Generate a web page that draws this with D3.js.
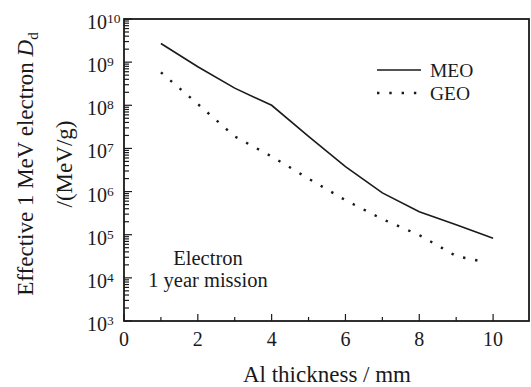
<!DOCTYPE html>
<html>
<head>
<meta charset="utf-8">
<script src="https://cdn.jsdelivr.net/npm/d3@7"></script>
<style>
	body { margin: 0; background: #fff; }
	svg text { font-family: 'Liberation Serif', 'Times New Roman', serif; fill: #1a1a1a; }
</style>
</head>
<body>
<svg id="chart" width="531" height="387"></svg>
<script>
// Al thickness (mm)
const meoThickness = [1, 2, 3, 4, 5, 6, 7, 8, 9, 10];
const meoDose = [2.7e9, 7.8e8, 2.5e8, 1.0e8, 1.9e7, 3.8e6, 9.3e5, 3.4e5, 1.7e5, 8.3e4];
const geoThickness = [1, 2, 3, 4, 5, 6, 7, 8, 9, 9.7];
const geoDose = [5.8e8, 1.07e8, 1.9e7, 6.5e6, 2.0e6, 6.3e5, 2.3e5, 9.8e4, 3.2e4, 2.4e4];
const xTicks = [0, 2, 4, 6, 8, 10];
const xMinorTicks = [1, 3, 5, 7, 9];
const yExponents = [3, 4, 5, 6, 7, 8, 9, 10];

const svg = d3.select('#chart');
const margin = {left: 124, top: 19, right: 1, bottom: 66};
const width = 531, height = 387;
const x0 = margin.left, x1 = width - margin.right;
const y0 = height - margin.bottom, y1 = margin.top;

const x = d3.scaleLinear().domain([0, 11]).range([x0, x1]);
const y = d3.scaleLog().domain([1e3, 1e10]).range([y0, y1]);
const ink = '#1a1a1a';

// minor log ticks, inward
const minorY = [];
yExponents.slice(0, -1).forEach(e => {
	for(let k = 2; k <= 9; k++) minorY.push(k * Math.pow(10, e));
});

const ticks = svg.append('g').attr('stroke', ink).attr('stroke-width', 1.2);
ticks.selectAll('line.ymaj')
	.data(yExponents.map(e => Math.pow(10, e)))
	.join('line')
	.attr('class', 'ymaj')
	.attr('x1', x0).attr('x2', x0 + 8)
	.attr('y1', d => y(d)).attr('y2', d => y(d));
ticks.selectAll('line.ymin')
	.data(minorY)
	.join('line')
	.attr('class', 'ymin')
	.attr('x1', x0).attr('x2', x0 + 5)
	.attr('y1', d => y(d)).attr('y2', d => y(d));
ticks.selectAll('line.xmaj')
	.data(xTicks)
	.join('line')
	.attr('class', 'xmaj')
	.attr('x1', d => x(d)).attr('x2', d => x(d))
	.attr('y1', y0).attr('y2', y0 - 7);
ticks.selectAll('line.xmin')
	.data(xMinorTicks)
	.join('line')
	.attr('class', 'xmin')
	.attr('x1', d => x(d)).attr('x2', d => x(d))
	.attr('y1', y0).attr('y2', y0 - 4);

// frame
svg.append('rect')
	.attr('x', x0).attr('y', y1)
	.attr('width', x1 - x0 - 1).attr('height', y0 - y1)
	.attr('fill', 'none').attr('stroke', ink).attr('stroke-width', 1.8);

// y tick labels 10^n
const yLab = svg.append('g').attr('font-size', 20);
yLab.selectAll('text.base')
	.data(yExponents)
	.join('text')
	.attr('class', 'base')
	.attr('x', 107).attr('y', d => y(Math.pow(10, d)) + 10)
	.attr('text-anchor', 'end')
	.text('10');
yLab.selectAll('text.exp')
	.data(yExponents)
	.join('text')
	.attr('class', 'exp')
	.attr('x', 107).attr('y', d => y(Math.pow(10, d)) + 4)
	.attr('font-size', 13.5)
	.text(d => d);

// x tick labels
svg.append('g').attr('font-size', 20).attr('text-anchor', 'middle')
	.selectAll('text')
	.data(xTicks)
	.join('text')
	.attr('x', d => x(d)).attr('y', 346)
	.text(d => d);

// series
const line = d3.line().x(d => x(d[0])).y(d => y(d[1]));
svg.append('path')
	.datum(d3.zip(meoThickness, meoDose))
	.attr('d', line)
	.attr('fill', 'none').attr('stroke', ink).attr('stroke-width', 1.6);
svg.append('path')
	.datum(d3.zip(geoThickness, geoDose))
	.attr('d', line)
	.attr('fill', 'none').attr('stroke', ink).attr('stroke-width', 2.4)
	.attr('stroke-dasharray', '2.4,9.9');

// legend
const legend = svg.append('g').attr('font-size', 19.5);
legend.append('line')
	.attr('x1', 377).attr('x2', 421).attr('y1', 70).attr('y2', 70)
	.attr('stroke', ink).attr('stroke-width', 1.6);
legend.append('line')
	.attr('x1', 377).attr('x2', 421).attr('y1', 93).attr('y2', 93)
	.attr('stroke', ink).attr('stroke-width', 2.4)
	.attr('stroke-dasharray', '2.4,9.9');
legend.append('text').attr('x', 430).attr('y', 77).text('MEO');
legend.append('text').attr('x', 430).attr('y', 100).text('GEO');

// annotation
const note = svg.append('g').attr('font-size', 20.5).attr('text-anchor', 'middle');
note.append('text').attr('x', 208).attr('y', 265).text('Electron');
note.append('text').attr('x', 208).attr('y', 287).text('1 year mission');

// axis titles
svg.append('text')
	.attr('x', (x0 + x1) / 2).attr('y', 382)
	.attr('text-anchor', 'middle').attr('font-size', 23)
	.text('Al thickness / mm');

const yTitle = svg.append('g')
	.attr('transform', `translate(0, ${(y0 + y1) / 2 - 6}) rotate(-90)`)
	.attr('font-size', 23).attr('text-anchor', 'middle');
const t1 = yTitle.append('text').attr('x', 0).attr('y', 33);
t1.append('tspan').text('Effective 1 MeV electron ');
t1.append('tspan').attr('font-style', 'italic').text('D');
t1.append('tspan').attr('font-size', 15).attr('dy', 5).text('d');
yTitle.append('text').attr('x', 0).attr('y', 72).text('/(MeV/g)');
</script>
</body>
</html>
